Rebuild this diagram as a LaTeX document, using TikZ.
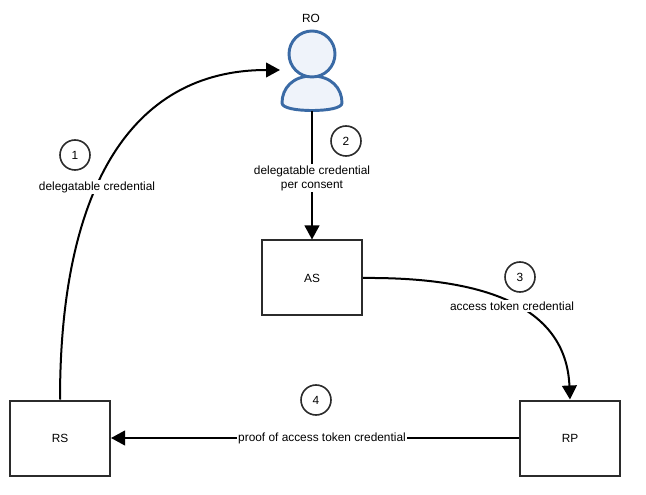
\documentclass[tikz,border=0pt]{standalone}
\usepackage{fontspec}
\setmainfont{Liberation Sans}
\usetikzlibrary{arrows.meta}
\definecolor{personline}{HTML}{3A6AA5}
\definecolor{personfill}{HTML}{EFF3FA}
\definecolor{boxline}{HTML}{2B2B2B}
\tikzset{
  party/.style={draw=boxline, line width=1.5pt, fill=white, minimum width=75pt, minimum height=56.25pt, inner sep=0pt, font=\fontsize{8.9}{10.5}\selectfont},
  stepmark/.style={circle, draw=boxline, line width=1.2pt, fill=white, minimum size=22.5pt, inner sep=0pt, font=\fontsize{8.9}{10.5}\selectfont},
  flow/.style={line width=1.5pt, -{Triangle[length=10.5pt,width=11pt]}, black},
  flowtext/.style={fill=white, inner sep=1pt, align=center, font=\fontsize{8.9}{10.5}\selectfont}
}
\begin{document}
\begin{tikzpicture}[x=0.75pt, y=-0.75pt]
\useasboundingbox (0,0) rectangle (646,495);

% Draw the three boxes
\node[party] (AS) at (312,278) {AS};
\node[party] (RS) at (60,438) {RS};
\node[party] (RP) at (570,438) {RP};

% Draw resource owner figure
\path[draw=personline, fill=personfill, line width=2.2pt]
  (282,103) .. controls (282,88) and (293,76) .. (312,76) .. controls (331,76) and (342,88) .. (342,103) .. controls (342,108) and (328,110.5) .. (312,110.5) .. controls (296,110.5) and (282,108) .. (282,103) -- cycle;
\path[draw=personline, fill=personfill, line width=2.2pt] (312,54) circle (23);
\node[inner sep=0pt, font=\fontsize{8.9}{10.5}\selectfont] (ROtext) at (311,18) {RO};
\coordinate (ROwest) at (280,70);
\coordinate (ROsouth) at (312,111);

% Connect the parties
\draw[flow] (RS.north) .. controls (60,190) and (130,70) .. (ROwest);
\draw[flow] (ROsouth) -- (AS.north);
\draw[flow] (AS.east) .. controls (480,277) and (566,304) .. (RP.north);
\draw[flow] (RP.west) -- (RS.east);

% Labels on the connectors
\node[flowtext] (lab1) at (97,187) {delegatable credential};
\node[flowtext] (lab2) at (312,178) {delegatable credential\\per consent};
\node[flowtext] (lab3) at (512,306) {access token credential};
\node[flowtext] (lab4) at (322,438) {proof of access token credential};

% Numbered steps
\node[stepmark] (step1) at (75,155) {1};
\node[stepmark] (step2) at (346,141) {2};
\node[stepmark] (step3) at (520,277) {3};
\node[stepmark] (step4) at (316,400) {4};

\end{tikzpicture}
\end{document}
